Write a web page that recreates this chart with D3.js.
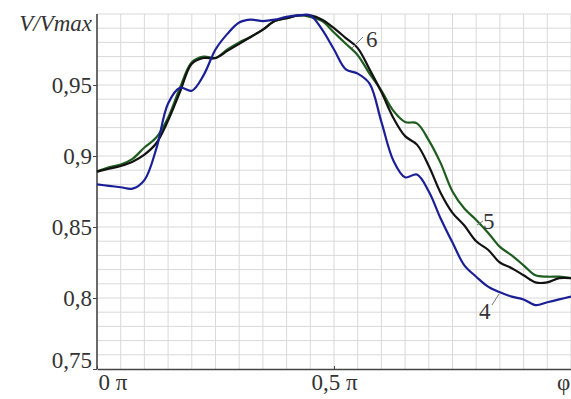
<!DOCTYPE html>
<html>
<head>
<meta charset="utf-8">
<script src="https://cdn.jsdelivr.net/npm/d3@7"></script>
<style>
  body { margin: 0; background: #fff; }
  svg text { font-family: "Liberation Serif", "Times New Roman", Times, "Nimbus Roman", "DejaVu Serif", serif !important; fill: #333; }
</style>
</head>
<body>
<script>
// phase, in units of pi
const phi = [0, 0.025, 0.05, 0.075, 0.1, 0.125, 0.15, 0.175, 0.2, 0.225,
  0.25, 0.275, 0.3, 0.325, 0.35, 0.375, 0.4, 0.425, 0.45, 0.475,
  0.5, 0.525, 0.55, 0.575, 0.6, 0.625, 0.65, 0.675, 0.7, 0.725,
  0.75, 0.775, 0.8, 0.825, 0.85, 0.875, 0.9, 0.925, 0.95, 0.975, 1.0];

// curve 4 (blue)
const curve4 = [0.880, 0.879, 0.878, 0.877, 0.883, 0.905, 0.937, 0.948, 0.946, 0.957,
  0.975, 0.986, 0.994, 0.996, 0.995, 0.996, 0.998, 0.999, 0.999, 0.989,
  0.975, 0.961, 0.958, 0.951, 0.924, 0.897, 0.885, 0.887, 0.875, 0.856,
  0.839, 0.823, 0.815, 0.808, 0.804, 0.801, 0.799, 0.795, 0.797, 0.799, 0.801];

// curve 5 (green)
const curve5 = [0.889, 0.892, 0.894, 0.898, 0.906, 0.913, 0.927, 0.948, 0.966, 0.970,
  0.969, 0.975, 0.980, 0.984, 0.989, 0.995, 0.997, 0.999, 0.998, 0.995,
  0.987, 0.979, 0.971, 0.958, 0.946, 0.932, 0.924, 0.923, 0.911, 0.895,
  0.875, 0.863, 0.855, 0.846, 0.836, 0.830, 0.823, 0.816, 0.815, 0.815, 0.814];

// curve 6 (black)
const curve6 = [0.889, 0.891, 0.893, 0.896, 0.901, 0.909, 0.925, 0.945, 0.965, 0.969,
  0.969, 0.974, 0.979, 0.984, 0.989, 0.995, 0.997, 0.999, 0.999, 0.996,
  0.990, 0.983, 0.976, 0.961, 0.945, 0.927, 0.914, 0.908, 0.893, 0.874,
  0.860, 0.851, 0.840, 0.834, 0.825, 0.821, 0.816, 0.811, 0.811, 0.814, 0.814];

const yTicks = [0.75, 0.8, 0.85, 0.9, 0.95];
const xTicks = [0, 0.5];
const xTickLabels = ["0 \u03c0", "0,5 \u03c0"];

const width = 571, height = 399;
const margin = { top: 14, right: 0, bottom: 30, left: 97 };
const serif = '"Liberation Serif", "Times New Roman", Times, "DejaVu Serif", serif';

const svg = d3.select('body').append('svg')
    .attr('width', width)
    .attr('height', height);

const x = d3.scaleLinear().domain([0, 1]).range([margin.left, width - margin.right]);
const y = d3.scaleLinear().domain([0.75, 1.0]).range([height - margin.bottom, margin.top]);

// grid
const grid = svg.append('g').attr('stroke', '#d9d9d9').attr('stroke-width', 1);
grid.selectAll('line.v')
  .data(d3.range(1, 21).map(i => i * 0.05))
  .join('line')
    .attr('x1', d => x(d)).attr('x2', d => x(d))
    .attr('y1', y(0.75)).attr('y2', y(1.0));
grid.selectAll('line.h')
  .data(d3.range(1, 26).map(i => 0.75 + i * 0.01))
  .join('line')
    .attr('x1', x(0)).attr('x2', x(1))
    .attr('y1', d => y(d)).attr('y2', d => y(d));

// axes
const fmt = d => d3.format('.2~f')(d).replace('.', ',');
const yAxis = svg.append('g')
    .attr('transform', `translate(${x(0)},0)`)
    .call(d3.axisLeft(y).tickValues(yTicks).tickFormat(fmt).tickSize(4).tickSizeOuter(0))
    .attr('font-family', serif).attr('font-size', 23);
yAxis.select('.domain').attr('stroke', '#444').attr('stroke-width', 1.6)
    .attr('d', `M0,${y(0.75)}V${y(1.0)}`);
yAxis.selectAll('.tick line').attr('stroke', '#444');
yAxis.selectAll('.tick text')
    .attr('x', -5)
    .attr('fill', '#333')
    .attr('dy', d => d === 0.75 ? '-0.05em' : '0.32em');

const xAxis = svg.append('g')
    .attr('transform', `translate(0,${y(0.75)})`)
    .call(d3.axisBottom(x).tickValues(xTicks).tickFormat((d, i) => xTickLabels[i]).tickSize(-3).tickSizeOuter(0))
    .attr('font-family', serif).attr('font-size', 23);
xAxis.select('.domain').attr('stroke', '#444').attr('stroke-width', 1.6);
xAxis.selectAll('.tick line').attr('stroke', '#444');
xAxis.selectAll('.tick text')
    .attr('fill', '#333')
    .attr('y', 5)
    .attr('text-anchor', d => d === 0 ? 'start' : 'middle')
    .attr('dx', d => d === 0 ? 1 : 0);

// axis titles
svg.append('text')
    .attr('x', 92).attr('y', 31)
    .attr('text-anchor', 'end')
    .attr('font-family', serif)
    .style('font-size', '23px').style('font-style', 'italic')
    .text('V/Vmax');
svg.append('text')
    .attr('x', 557).attr('y', 390)
    .attr('font-family', serif)
    .style('font-size', '23px')
    .text('\u03c6');

// curves
const line = d3.line()
    .x((d, i) => x(phi[i]))
    .y(d => y(d))
    .curve(d3.curveCatmullRom);

const series = [
  { name: '4', values: curve4, color: '#1b1f95' },
  { name: '5', values: curve5, color: '#1f5c1f' },
  { name: '6', values: curve6, color: '#121212' }
];
svg.selectAll('path.curve')
  .data([series[1], series[2], series[0]])
  .join('path')
    .attr('class', 'curve')
    .attr('fill', 'none')
    .attr('stroke', d => d.color)
    .attr('stroke-width', 2.2)
    .attr('d', d => line(d.values));

// curve labels with leader lines
const labels = [
  { t: '6', lx: 366, ly: 47, l: [352, 48, 363, 37] },
  { t: '5', lx: 483, ly: 229, l: [477, 225, 483, 221] },
  { t: '4', lx: 479, ly: 319, l: [492, 305, 499, 294] }
];
labels.forEach(d => {
  svg.append('line')
    .attr('x1', d.l[0]).attr('y1', d.l[1]).attr('x2', d.l[2]).attr('y2', d.l[3])
    .attr('stroke', '#777').attr('stroke-width', 1);
  svg.append('text')
    .attr('x', d.lx).attr('y', d.ly)
    .attr('font-family', serif)
    .style('font-size', '23px')
    .text(d.t);
});
</script>
</body>
</html>
